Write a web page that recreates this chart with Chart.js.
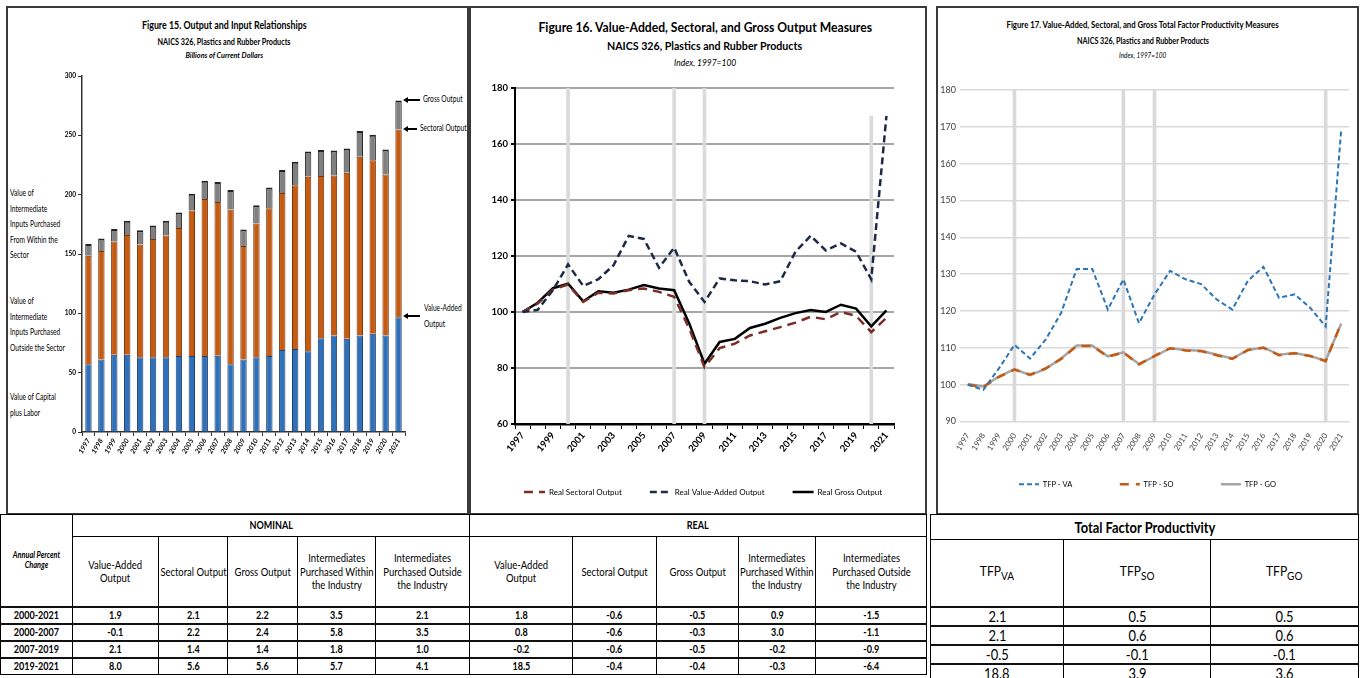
<!DOCTYPE html>
<html>
<head>
<meta charset="utf-8">
<script src="https://cdn.jsdelivr.net/npm/chart.js@4.4.0/dist/chart.umd.min.js"></script>
<style>
  body { margin: 0; width: 1364px; height: 678px; background: #fff; overflow: hidden; position: relative;
         font-family: Lato, 'Liberation Sans', sans-serif; color: #000; }
  .panel { position: absolute; border: 2px solid #3a3a3a; box-sizing: border-box; }
  .t { position: absolute; white-space: nowrap; text-align: center; line-height: 14px; }
  .note { position: absolute; font-size: 9px; line-height: 15.5px; white-space: nowrap; transform: scaleX(0.74); transform-origin: 0 0; }
  .arrow { position: absolute; height: 1.5px; background: #000; }
  .arrow:before { content: ''; position: absolute; left: -4px; top: -2.5px; border-right: 5px solid #000;
                  border-top: 3.25px solid transparent; border-bottom: 3.25px solid transparent; }
  canvas { position: absolute; }
  table { position: absolute; border-collapse: collapse; table-layout: fixed; }
  td { border: 1px solid #000; text-align: center; padding: 0; overflow: hidden; line-height: 1.2; white-space: nowrap; }
  td span { display: inline-block; transform: scaleX(0.86); margin: 0 -30px; }
  tr.d td { border-top: 2px solid #111; font-weight: bold; }
  tr.d3 td { line-height: 1; font-weight: normal; }
</style>
</head>
<body>
<div class="panel" style="left:6px;top:6px;width:463px;height:509px;"></div>
<div class="panel" style="left:469px;top:6px;width:458px;height:509px;"></div>
<div class="panel" style="left:936px;top:6px;width:423px;height:509px;"></div>

<div class="t" data-c="224.5" data-w="165" style="top:18px;font-size:11px;font-weight:bold;">Figure 15. Output and Input Relationships</div>
<div class="t" data-c="223.5" data-w="133" style="top:35px;font-size:8.5px;font-weight:bold;">NAICS 326, Plastics and Rubber Products</div>
<div class="t" data-c="224" data-w="78" style="top:49px;font-size:7.5px;font-weight:bold;font-style:italic;">Billions of Current Dollars</div>

<div class="t" data-c="705" data-w="334" style="top:20px;font-size:13.5px;font-weight:bold;">Figure 16. Value-Added, Sectoral, and Gross Output Measures</div>
<div class="t" data-c="704.5" data-w="195" style="top:39px;font-size:11.5px;font-weight:bold;">NAICS 326, Plastics and Rubber Products</div>
<div class="t" data-c="705" data-w="62" style="top:56px;font-size:9px;font-style:italic;">Index, 1997=100</div>

<div class="t" data-c="1142" data-w="272" style="top:18px;font-size:9.5px;font-weight:bold;">Figure 17. Value-Added, Sectoral, and Gross Total Factor Productivity Measures</div>
<div class="t" data-c="1142.5" data-w="132" style="top:34px;font-size:8.5px;font-weight:bold;">NAICS 326, Plastics and Rubber Products</div>
<div class="t" data-c="1142.5" data-w="47" style="top:49px;font-size:7.5px;font-style:italic;">Index, 1997=100</div>

<div class="note" style="left:10px;top:185px;">Value of<br>Intermediate<br>Inputs Purchased<br>From Within the<br>Sector</div>
<div class="note" style="left:10px;top:293px;">Value of<br>Intermediate<br>Inputs Purchased<br>Outside the Sector</div>
<div class="note" style="left:10px;top:389px;">Value of Capital<br>plus Labor</div>

<div class="arrow" style="left:407px;top:99px;width:13px;"></div>
<div class="note" style="left:423px;top:91px;">Gross Output</div>
<div class="arrow" style="left:407px;top:128px;width:10px;"></div>
<div class="note" style="left:420px;top:120px;">Sectoral Output</div>
<div class="arrow" style="left:407px;top:315px;width:13px;"></div>
<div class="note" style="left:424px;top:300px;">Value-Added<br>Output</div>

<canvas id="fig15" width="365" height="400" style="left:55px;top:70px;"></canvas>
<canvas id="fig16" width="452" height="440" style="left:472px;top:70px;"></canvas>
<canvas id="fig17" width="418" height="440" style="left:938px;top:70px;"></canvas>

<table id="tab1" style="left:0px;top:514px;width:469px;"></table>
<table id="tab2" style="left:469px;top:514px;width:457px;"></table>
<table id="tab3" style="left:930px;top:514px;width:428px;"></table>

<script>
const years = ['1997','1998','1999','2000','2001','2002','2003','2004','2005','2006','2007','2008','2009',
               '2010','2011','2012','2013','2014','2015','2016','2017','2018','2019','2020','2021'];

// Figure 15, billions of current dollars (stacked pieces)
const capitalLabor  = [57, 61, 65, 65, 63, 63, 63, 64, 64, 64, 64.3, 57, 61, 63, 64, 69, 70, 68, 79, 81.4, 78.6, 81.4, 82.8, 81.4, 96.6];
const outsideInputs = [91.5, 91.5, 95.6, 101, 95, 99.6, 102.6, 108, 122.7, 132.3, 129.5, 130.6, 95.7, 112.7, 124.5, 132.3, 138, 147, 136.7, 134.8, 139.9, 150.6, 146.2, 135.6, 158.4];
const withinInputs  = [9.9, 10.5, 10.4, 12, 12, 11.4, 12.4, 13, 14.1, 15.4, 16.8, 16.4, 14, 15.3, 17.5, 19.4, 19.7, 21.4, 21.9, 21.1, 20.5, 21.6, 21.5, 21, 24.4];

// Figure 16, index 1997=100
const realSectoral   = [100, 103, 108, 109.8, 103.6, 106.9, 106.6, 107.8, 108.4, 107.2, 105.4, 94, 80.3, 87.1, 88.7, 91.6, 93.1, 94.6, 96.2, 98.3, 97.4, 100, 98.6, 92.8, 97.9];
const realValueAdded = [100, 100.8, 107.8, 117, 109.3, 111.7, 116.7, 127.2, 126.1, 115.8, 123, 110.7, 103.6, 112, 111.3, 111, 109.8, 111, 121.5, 127.2, 122, 124.5, 121.5, 111.7, 170];
const realGross      = [100, 103.3, 108.5, 110.1, 103.8, 107.4, 106.9, 108, 109.6, 108.4, 107.8, 95.8, 81.5, 89.3, 90.4, 94.3, 95.8, 97.9, 99.6, 100.7, 100, 102.6, 101.2, 94.9, 100.6];
const markers16      = [null, null, null, 180, null, null, null, null, null, null, 180, null, 180, null, null, null, null, null, null, null, null, null, null, 170, null];

// Figure 17, index 1997=100
const tfpVA = [100, 98.6, 104.4, 110.8, 107.1, 112.2, 119.5, 131.4, 131.4, 120.4, 128.6, 116.7, 124.5, 130.9, 128.6, 127.3, 123.1, 120.4, 128.2, 132, 123.6, 124.5, 120.9, 115.8, 169.3];
const tfpSO = [100, 99.4, 102.1, 104.1, 102.7, 104.4, 107, 110.5, 110.5, 107.6, 108.7, 105.5, 107.8, 109.9, 109.3, 109.1, 108, 107, 109.4, 110, 108, 108.5, 107.8, 106.4, 116.7];
const tfpGO = [100.2, 99.5, 102.2, 104.2, 102.6, 104.3, 107.1, 110.6, 110.6, 107.7, 108.8, 105.6, 107.7, 109.9, 109.4, 109.2, 108.1, 107.1, 109.4, 110.1, 108.1, 108.6, 107.8, 106.5, 116.6];
const markers17 = [null, null, null, 180, null, null, null, null, null, null, 180, null, 180, null, null, null, null, null, null, null, null, null, null, 180, null];

// Tables, annual percent change
const periods = ['2000-2021', '2000-2007', '2007-2019', '2019-2021'];
const nomVA  = [1.9, -0.1, 2.1, 8.0];
const nomSO  = [2.1, 2.2, 1.4, 5.6];
const nomGO  = [2.2, 2.4, 1.4, 5.6];
const nomIPW = [3.5, 5.8, 1.8, 5.7];
const nomIPO = [2.1, 3.5, 1.0, 4.1];
const realVA  = [1.8, 0.8, -0.2, 18.5];
const realSO  = [-0.6, -0.6, -0.6, -0.4];
const realGO  = [-0.5, -0.3, -0.5, -0.4];
const realIPW = [0.9, 3.0, -0.2, -0.3];
const realIPO = [-1.5, -1.1, -0.9, -6.4];
const tfpVAchg = [2.1, 2.1, -0.5, 18.8];
const tfpSOchg = [0.5, 0.6, -0.1, 3.9];
const tfpGOchg = [0.5, 0.6, -0.1, 3.6];

Chart.defaults.font.family = "Lato, 'Liberation Sans', sans-serif";
Chart.defaults.color = '#000';

// squeeze the title lines to the width they have in the original
document.querySelectorAll('.t').forEach(function (el) {
    const w = el.offsetWidth;
    el.style.left = (parseFloat(el.dataset.c) - w / 2) + 'px';
    el.style.transform = 'scaleX(' + (parseFloat(el.dataset.w) / w) + ')';
});

// legend entries drawn as short line samples; gap = extra spacing after each entry
function legendLines(gap) {
    return function (chart) {
        const items = chart.data.datasets.map(function (d, i) {
            return { text: d.label, fillStyle: d.borderColor, strokeStyle: d.borderColor, lineWidth: d.borderWidth,
                     lineDash: d.borderDash || [], pointStyle: 'line', datasetIndex: i, hidden: false, type: d.type };
        }).filter(function (it) { return it.type !== 'bar'; });
        items.forEach(function (it, k) { if (k < items.length - 1) it.text += gap; });
        return items;
    };
}

// nudge the legend sideways so it sits where the original has it
const legendShift = {
    id: 'legendShift',
    afterLayout: function (chart, args, opts) {
        if (chart.legend && opts.dx) { chart.legend.left += opts.dx; chart.legend.right += opts.dx; }
    }
};

// Figure 15
new Chart(document.getElementById('fig15').getContext('2d'), {
    type: 'bar',
    data: {
        labels: years,
        datasets: [
            { label: 'Value of Capital plus Labor', data: capitalLabor, backgroundColor: '#2f70bb', borderColor: '#1f3f6b', borderWidth: 1 },
            { label: 'Intermediates Purchased Outside the Sector', data: outsideInputs, backgroundColor: '#c55a11', borderColor: '#7a3309', borderWidth: 1 },
            { label: 'Intermediates Purchased From Within the Sector', data: withinInputs, backgroundColor: '#808080', borderColor: '#222', borderWidth: { top: 2, left: 1, right: 1, bottom: 0 } }
        ]
    },
    options: {
        responsive: false, animation: false, devicePixelRatio: 1,
        layout: { padding: { top: 6, right: 15, left: 0, bottom: 0 } },
        plugins: { legend: { display: false }, tooltip: { enabled: false } },
        datasets: { bar: { categoryPercentage: 0.55, barPercentage: 0.9 } },
        scales: {
            x: {
                stacked: true,
                grid: { offset: true, drawOnChartArea: false, tickLength: 4, color: '#333' },
                border: { color: '#333', width: 1.5 },
                ticks: { autoSkip: false, minRotation: 60, maxRotation: 60, padding: 1,
                         font: { size: 7, weight: 'bold', style: 'italic' } },
                afterFit: function (s) { s.height = 38; }
            },
            y: {
                stacked: true, min: 0, max: 300,
                ticks: { stepSize: 50, padding: 2, font: { size: 6.5, weight: 'bold' } },
                grid: { drawOnChartArea: false, tickLength: 4, color: '#333' },
                border: { color: '#333', width: 1.5 },
                afterFit: function (s) { s.width = 27; }
            }
        }
    }
});

// Figure 16
new Chart(document.getElementById('fig16').getContext('2d'), {
    type: 'line',
    data: {
        labels: years,
        datasets: [
            { label: 'Real Sectoral Output', data: realSectoral, borderColor: '#7b2d26', borderDash: [9, 6], borderWidth: 2.5, pointRadius: 0, order: 2 },
            { label: 'Real Value-Added Output', data: realValueAdded, borderColor: '#1c2a48', borderDash: [7, 4], borderWidth: 2.5, pointRadius: 0, order: 1 },
            { label: 'Real Gross Output', data: realGross, borderColor: '#000', borderWidth: 2.5, pointRadius: 0, order: 3 },
            { type: 'bar', label: 'marker', data: markers16, backgroundColor: '#dadada', barThickness: 3, order: 10 }
        ]
    },
    plugins: [legendShift],
    options: {
        responsive: false, animation: false, devicePixelRatio: 1,
        layout: { padding: { top: 18, right: 30, left: 0, bottom: 4 } },
        plugins: {
            tooltip: { enabled: false },
            legendShift: { dx: 20 },
            legend: { position: 'bottom', labels: { usePointStyle: true, pointStyleWidth: 21, padding: 28,
                      font: { size: 8 }, generateLabels: legendLines('') } }
        },
        scales: {
            x: {
                grid: { offset: true, drawOnChartArea: false, tickLength: 5, color: '#000' },
                border: { color: '#000', width: 2.5 },
                ticks: { autoSkip: false, minRotation: 50, maxRotation: 50, padding: 1, font: { size: 9.5, weight: 'bold' },
                         callback: function (v, i) { return i % 2 === 0 ? years[i] : ''; } },
                afterFit: function (s) { s.height = 36; }
            },
            y: {
                min: 60, max: 180,
                ticks: { stepSize: 20, padding: 3, font: { size: 9.5, weight: 'bold' } },
                grid: { color: '#a6a6a6', lineWidth: 2, tickLength: 4, tickColor: '#000' },
                border: { color: '#000', width: 2 },
                afterFit: function (s) { s.width = 43; }
            }
        }
    }
});

// Figure 17
new Chart(document.getElementById('fig17').getContext('2d'), {
    type: 'line',
    data: {
        labels: years,
        datasets: [
            { label: 'TFP - VA', data: tfpVA, borderColor: '#2e75b6', borderDash: [5, 3], borderWidth: 2, pointRadius: 0, order: 0 },
            { label: 'TFP - SO', data: tfpSO, borderColor: '#c55a11', borderDash: [9, 7], borderWidth: 2.5, pointRadius: 0, order: 1 },
            { label: 'TFP - GO', data: tfpGO, borderColor: '#a5a5a5', borderWidth: 2.5, pointRadius: 0, order: 3 },
            { type: 'bar', label: 'marker', data: markers17, backgroundColor: '#d9d9d9', barThickness: 3, order: 10 }
        ]
    },
    plugins: [legendShift],
    options: {
        responsive: false, animation: false, devicePixelRatio: 1,
        layout: { padding: { top: 20, right: 7, left: 0, bottom: 12 } },
        plugins: {
            tooltip: { enabled: false },
            legendShift: { dx: 4 },
            legend: { position: 'bottom', labels: { usePointStyle: true, pointStyleWidth: 20, padding: 25,
                      color: '#404040', font: { size: 7.5 }, generateLabels: legendLines('\u2002\u2002\u2002\u2002\u2002\u2002') } }
        },
        scales: {
            x: {
                grid: { display: false },
                border: { display: false },
                ticks: { autoSkip: false, minRotation: 58, maxRotation: 58, padding: 2, color: '#404040', font: { size: 8 } },
                afterFit: function (s) { s.height = 34; }
            },
            y: {
                min: 90, max: 180,
                ticks: { stepSize: 10, padding: 4, color: '#404040', font: { size: 9 } },
                grid: { color: '#d9d9d9', lineWidth: 1.5, drawTicks: false },
                border: { display: false },
                afterFit: function (s) { s.width = 22; }
            }
        }
    }
});

// Tables
function fmt(v) { return v.toFixed(1); }
function cell(html, style) { return '<td' + (style ? ' style="' + style + '"' : '') + '><span>' + html + '</span></td>'; }
function cols(ws) { return '<colgroup>' + ws.map(function (w) { return '<col style="width:' + w + 'px">'; }).join('') + '</colgroup>'; }

const headFive = ['Value-Added<br>Output', 'Sectoral Output', 'Gross Output',
                  'Intermediates<br>Purchased Within<br>the Industry', 'Intermediates<br>Purchased Outside<br>the Industry'];

let h1 = cols([72, 86, 69, 70, 78, 94]);
h1 += '<tr style="height:22px"><td rowspan="2" style="font-size:8.5px;font-weight:bold;font-style:italic;"><span>Annual Percent<br>Change</span></td>' +
      '<td colspan="5" style="font-size:10.5px;font-weight:bold;"><span>NOMINAL</span></td></tr>';
h1 += '<tr style="height:70px;font-size:11px">' + headFive.map(function (h) { return cell(h); }).join('') + '</tr>';
periods.forEach(function (p, i) {
    h1 += '<tr class="d" style="height:17px;font-size:10.5px">' + cell(p) + cell(fmt(nomVA[i])) + cell(fmt(nomSO[i])) +
          cell(fmt(nomGO[i])) + cell(fmt(nomIPW[i])) + cell(fmt(nomIPO[i])) + '</tr>';
});
document.getElementById('tab1').innerHTML = h1;

let h2 = cols([103, 84, 82, 77, 111]);
h2 += '<tr style="height:22px"><td colspan="5" style="font-size:10.5px;font-weight:bold;"><span>REAL</span></td></tr>';
h2 += '<tr style="height:70px;font-size:11px">' + headFive.map(function (h) { return cell(h); }).join('') + '</tr>';
periods.forEach(function (p, i) {
    h2 += '<tr class="d" style="height:17px;font-size:10.5px">' + cell(fmt(realVA[i])) + cell(fmt(realSO[i])) +
          cell(fmt(realGO[i])) + cell(fmt(realIPW[i])) + cell(fmt(realIPO[i])) + '</tr>';
});
document.getElementById('tab2').innerHTML = h2;

let h3 = cols([133, 147, 148]);
h3 += '<tr style="height:25px"><td colspan="3" style="font-size:15px;font-weight:bold;"><span>Total Factor Productivity</span></td></tr>';
h3 += '<tr style="height:67px;font-size:14px">' + cell('TFP<sub>VA</sub>') + cell('TFP<sub>SO</sub>') + cell('TFP<sub>GO</sub>') + '</tr>';
periods.forEach(function (p, i) {
    h3 += '<tr class="d d3" style="height:19px;font-size:15px;">' + cell(fmt(tfpVAchg[i])) +
          cell(fmt(tfpSOchg[i])) + cell(fmt(tfpGOchg[i])) + '</tr>';
});
document.getElementById('tab3').innerHTML = h3;
</script>
</body>
</html>
